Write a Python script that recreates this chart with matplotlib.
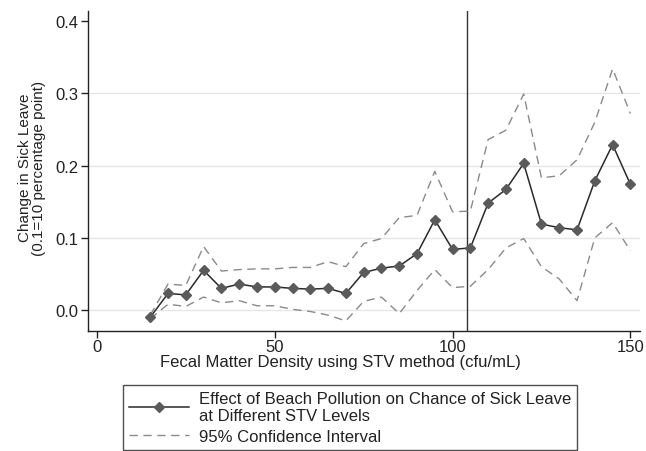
import numpy as np
import matplotlib.pyplot as plt

# === Data ===
stv = [15, 20, 25, 30, 35, 40, 45, 50, 55, 60, 65, 70, 75, 80,
       85, 90, 95, 100, 105, 110, 115, 120, 125, 130, 135, 140, 145, 150]
effect = [-0.010, 0.023, 0.021, 0.055, 0.030, 0.036, 0.032, 0.032, 0.030, 0.029,
          0.030, 0.023, 0.052, 0.058, 0.061, 0.078, 0.125, 0.084, 0.086, 0.148,
          0.167, 0.203, 0.119, 0.114, 0.111, 0.179, 0.229, 0.174]
ci_upper = [-0.007, 0.036, 0.034, 0.088, 0.054, 0.056, 0.057, 0.057, 0.059, 0.059,
            0.067, 0.060, 0.092, 0.099, 0.128, 0.131, 0.192, 0.136, 0.137, 0.236,
            0.249, 0.299, 0.183, 0.186, 0.208, 0.260, 0.334, 0.272]
ci_lower = [-0.012, 0.008, 0.005, 0.018, 0.010, 0.013, 0.006, 0.006, 0.001, -0.002,
            -0.007, -0.015, 0.012, 0.018, -0.005, 0.027, 0.056, 0.031, 0.033, 0.056,
            0.086, 0.099, 0.060, 0.043, 0.013, 0.100, 0.121, 0.082]
threshold = 104

x_ticks = [0, 50, 100, 150]
y_ticks = [0.0, 0.1, 0.2, 0.3, 0.4]

plt.rcParams['font.family'] = ['Liberation Sans', 'DejaVu Sans']
text_col = '#222222'

fig = plt.figure(figsize=(6.46, 4.52), dpi=100)
ax = fig.add_axes([88 / 646, 1 - 332 / 452, 552 / 646, 320 / 452])

# gridlines
for y in y_ticks[:-1]:
    ax.axhline(y, color='#e6e6e6', lw=1.0, zorder=0)

ax.plot(stv, ci_upper, color='#8a8a8a', lw=1.0, dashes=(6, 4), zorder=2)
ax.plot(stv, ci_lower, color='#8a8a8a', lw=1.0, dashes=(6, 4), zorder=2,
        label='95% Confidence Interval')
ax.plot(stv, effect, color='#2a2a2a', lw=1.1, marker='D', markersize=5,
        markerfacecolor='#5a5a5a', markeredgecolor='#5a5a5a', zorder=3,
        label='Effect of Beach Pollution on Chance of Sick Leave\nat Different STV Levels')
ax.axvline(threshold, color='#333333', lw=1.0, zorder=1)

ax.set_xlim(-2.5, 152.7)
ax.set_ylim(-0.029, 0.414)
ax.set_xticks(x_ticks)
ax.set_yticks(y_ticks)
ax.set_yticklabels([f'{v:.1f}' for v in y_ticks])

for s in ['top', 'right']:
    ax.spines[s].set_visible(False)
for s in ['left', 'bottom']:
    ax.spines[s].set_color('#222222')
    ax.spines[s].set_linewidth(1.0)

ax.tick_params(axis='both', direction='out', length=5, width=1.0,
               colors='#222222', labelsize=12, labelcolor=text_col)
ax.tick_params(axis='x', pad=1)
ax.tick_params(axis='y', pad=2)

ax.set_xlabel('Fecal Matter Density using STV method (cfu/mL)',
              fontsize=12, color=text_col)
ax.xaxis.set_label_coords(0.457, -0.072)

fig.text(32 / 646, 1 - 168 / 452,
         'Change in Sick Leave\n(0.1=10 percentage point)',
         rotation=90, ha='center', va='center', ma='center',
         fontsize=11, color=text_col, linespacing=1.0)

handles, labels = ax.get_legend_handles_labels()
leg = fig.legend(handles[::-1], labels[::-1], loc='upper center',
                 bbox_to_anchor=(350 / 646, 1 - 386 / 452),
                 fontsize=12, frameon=True, fancybox=False, handlelength=3.6,
                 handletextpad=0.6, borderpad=0.35, labelspacing=0.35,
                 borderaxespad=0)
leg.get_frame().set_edgecolor('#222222')
leg.get_frame().set_linewidth(1.0)
for t in leg.get_texts():
    t.set_color(text_col)

fig.savefig('out.png', dpi=100)
